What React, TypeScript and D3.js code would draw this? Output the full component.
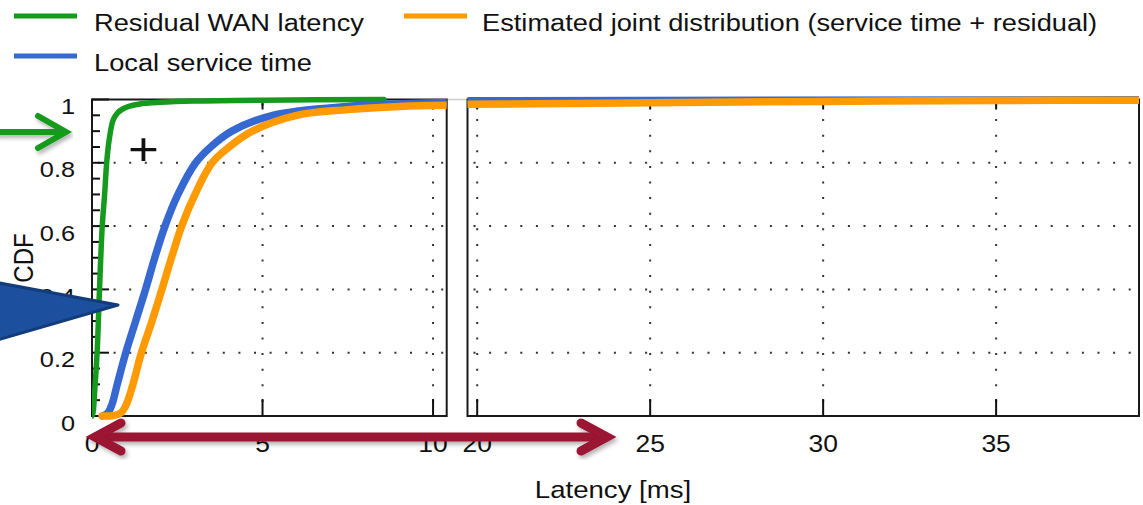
import React from 'react';
import * as d3 from 'd3';

// CDF samples: [latency ms, cumulative fraction]
const wanLatency: [number, number][] = [
  [0, 0], [0.03, 0.01], [0.08, 0.08], [0.15, 0.2], [0.22, 0.4], [0.3, 0.6],
  [0.37, 0.7], [0.43, 0.8], [0.5, 0.87], [0.62, 0.935], [0.75, 0.958], [0.9, 0.97],
  [1.1, 0.979], [1.4, 0.986], [2, 0.991], [3, 0.995], [5, 0.998], [8.56, 1.0],
];
const serviceTime: [number, number][] = [
  [0.3, 0], [0.45, 0.008], [0.58, 0.035], [0.74, 0.1], [0.99, 0.2], [1.28, 0.3],
  [1.57, 0.4], [1.84, 0.5], [2.14, 0.6], [2.52, 0.7], [3.04, 0.8], [3.48, 0.85],
  [4.1, 0.9], [5.3, 0.95], [7.5, 0.978], [10.4, 0.99], [19.7, 0.996], [39.2, 0.999],
];
const jointDist: [number, number][] = [
  [0.3, 0], [0.6, 0.001], [0.85, 0.01], [1.02, 0.04], [1.2, 0.1], [1.45, 0.2],
  [1.76, 0.3], [2.05, 0.4], [2.33, 0.5], [2.63, 0.6], [3.02, 0.7], [3.52, 0.8],
  [4.02, 0.85], [4.7, 0.9], [6.0, 0.95], [7.5, 0.968], [9.0, 0.978], [10.4, 0.982],
  [19.7, 0.985], [25, 0.99], [30, 0.994], [35, 0.997], [39.2, 0.998],
];

const leftTicks = [0, 5, 10];
const rightTicks = [20, 25, 30, 35];
const yMajor = [0, 0.2, 0.4, 0.6, 0.8, 1];
const yMinor = d3.range(0, 1.0001, 0.05);
const yLabels = ['0', '0.2', '0.4', '0.6', '0.8', '1'];

const series = [
  { name: 'Residual WAN latency', data: wanLatency, color: '#159a1d', width: 5.5 },
  { name: 'Local service time', data: serviceTime, color: '#3568d0', width: 7.5 },
  { name: 'Estimated joint distribution (service time + residual)', data: jointDist, color: '#ff9a00', width: 7.5 },
];

const W = 1143;
const H = 505;
const SX = 1.15; // the source image is stretched horizontally
const FONT = "'Liberation Sans', Arial, Helvetica, sans-serif";

const top = 99.5;
const bottom = 416;
const y = d3.scaleLinear().domain([0, 1]).range([bottom, top]);
const xLeft = d3.scaleLinear().domain([0, 10.4]).range([92, 446.7]);
const xRight = d3.scaleLinear().domain([19.72, 39.13]).range([467.5, 1139]);

function Label({ x, y, size, anchor = 'start', rotate, children, weight }: any) {
  return (
    <text
      transform={`translate(${x},${y}) scale(${SX},1)${rotate ? ` rotate(${rotate})` : ''}`}
      fontSize={size}
      fontFamily={FONT}
      fontWeight={weight}
      textAnchor={anchor}
      fill="#111"
    >
      {children}
    </text>
  );
}

function Panel({ id, x, ticks, yAxis }: any) {
  const [x0, x1] = x.range();
  const line = d3.line<[number, number]>()
    .x(d => x(d[0]))
    .y(d => y(d[1]))
    .curve(d3.curveCatmullRom.alpha(0.5));
  return (
    <g>
      <clipPath id={id}>
        <rect x={x0} y={top - 6} width={x1 - x0} height={bottom - top + 12} />
      </clipPath>
      {/* dotted grid */}
      {[0.2, 0.4, 0.6, 0.8].map(v => (
        <line key={'h' + v} x1={x0} x2={x1} y1={y(v)} y2={y(v)}
          stroke="#333" strokeWidth={2} strokeDasharray="2,13.6" strokeDashoffset={-6} />
      ))}
      {ticks.filter((t: number) => t !== 0).map((t: number) => (
        <line key={'v' + t} x1={x(t)} x2={x(t)} y1={top} y2={bottom}
          stroke="#333" strokeWidth={2} strokeDasharray="2,13.6" strokeDashoffset={-4} />
      ))}
      {/* frame */}
      <rect x={x0} y={top} width={x1 - x0} height={bottom - top} fill="none" stroke="#1a1a1a" strokeWidth={2} />
      {/* x ticks */}
      {ticks.map((t: number) => (
        <g key={'t' + t}>
          <line x1={x(t)} x2={x(t)} y1={bottom} y2={bottom - 17} stroke="#111" strokeWidth={2} />
          <line x1={x(t)} x2={x(t)} y1={top} y2={top + 10} stroke="#111" strokeWidth={2} />
        </g>
      ))}
      {yAxis && yMinor.map(v => {
        const major = yMajor.some(m => Math.abs(m - v) < 1e-6);
        return (
          <line key={'y' + v} x1={x0} x2={x0 + (major ? 17 : 8)} y1={y(v)} y2={y(v)} stroke="#111" strokeWidth={2} />
        );
      })}
      {/* curves */}
      <g clipPath={`url(#${id})`}>
        {series.map(s => (
          <path key={s.name} d={line(s.data) || ''} fill="none" stroke={s.color}
            strokeWidth={s.width} strokeLinecap="round" strokeLinejoin="round" />
        ))}
      </g>
      {ticks.map((t: number) => (
        <Label key={'l' + t} x={x(t)} y={451.5} size={23} anchor="middle">{t}</Label>
      ))}
    </g>
  );
}

export default function App() {
  return (
    <svg width={W} height={H} style={{ position: 'absolute', left: 0, top: 0, background: '#fff' }}>
      <defs>
        <filter id="shadow" x="-10%" y="-30%" width="120%" height="160%">
          <feDropShadow dx="2" dy="3" stdDeviation="2" floodColor="#000" floodOpacity="0.3" />
        </filter>
      </defs>
      <rect width={W} height={H} fill="#fff" />

      {/* legend */}
      <line x1={14} x2={77} y1={16} y2={16} stroke={series[0].color} strokeWidth={5} />
      <Label x={94} y={31} size={23.7}>{series[0].name}</Label>
      <line x1={404} x2={467} y1={16} y2={16} stroke={series[2].color} strokeWidth={5} />
      <Label x={482} y={31} size={23.7}>{series[2].name}</Label>
      <line x1={14} x2={77} y1={56} y2={56} stroke={series[1].color} strokeWidth={5} />
      <Label x={94} y={71} size={23.7}>{series[1].name}</Label>

      {/* broken-axis connector */}
      <line x1={446.7} x2={467.5} y1={top} y2={top} stroke="#ccc" strokeWidth={1.5} />

      <Panel id="clipL" x={xLeft} ticks={leftTicks} yAxis />
      <Panel id="clipR" x={xRight} ticks={rightTicks} />

      {yMajor.map((v, i) => (
        <Label key={v} x={75} y={y(v) + 14.5} size={22} anchor="end">{yLabels[i]}</Label>
      ))}
      <Label x={33} y={258} size={24} anchor="middle" rotate={-90}>CDF</Label>
      <Label x={613} y={498} size={24} anchor="middle">Latency [ms]</Label>

      {/* annotations */}
      <Label x={143.5} y={165} size={46} anchor="middle">+</Label>

      <g filter="url(#shadow)" stroke="#159a1d" strokeWidth={6} fill="none" strokeLinecap="round" strokeLinejoin="miter">
        <line x1={-4} x2={64} y1={132} y2={132} />
        <polyline points="38,116 66,132 38,148" />
      </g>

      <polygon points="-6,282 118,305 -6,341" fill="#1c4f9d" stroke="#123c7a" strokeWidth={3} strokeLinejoin="round" />

      <g filter="url(#shadow)" stroke="#9b1232" strokeWidth={9} fill="none" strokeLinecap="round" strokeLinejoin="miter">
        <line x1={98} x2={602} y1={437} y2={437} />
        <polyline points="121,423 95,437 121,451" />
        <polyline points="581,423 607,437 581,451" />
      </g>
    </svg>
  );
}
